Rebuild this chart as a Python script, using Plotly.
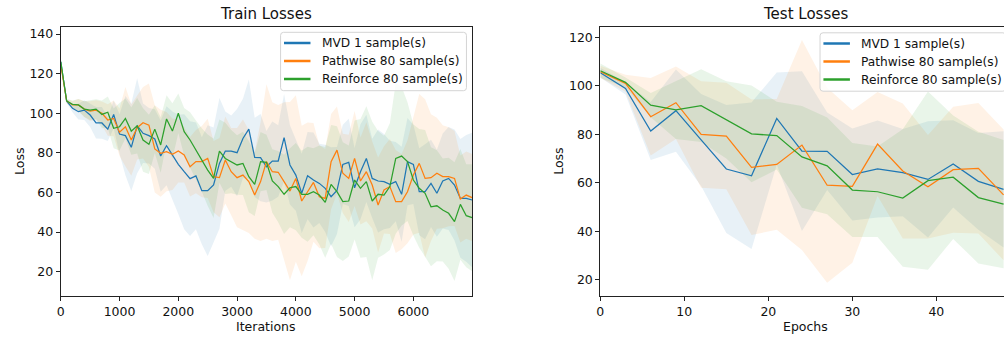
import plotly.graph_objects as go

# ---------------- data ----------------
iters = list(range(0, 7001, 100))

train_mvd = [126, 106.2, 102.5, 100.8, 101.6, 99.1, 95.2, 95.1, 92, 99.4,
             89.5, 88.7, 82.8, 93.7, 89.9, 88.7, 87, 78.4, 83.6, 78.9,
             74.2, 70.5, 67.0, 68.4, 60.9, 60.9, 63.8, 74.7, 80.9, 80.9,
             80.1, 87.3, 92, 77.7, 77.6, 73, 75.9, 75.9, 87.7, 73.9,
             68.8, 59.6, 68.5, 66.3, 64.6, 62.1, 57.9, 61, 74.2, 75.2,
             62.4, 70.5, 77.2, 67.1, 65.8, 65.5, 64.1, 65.5, 59.1, 75.6,
             74.2, 60.4, 60.4, 64.6, 59.6, 65.8, 67.1, 63.8, 57, 57, 56.2]
train_mvd_std = [2, 1, 2, 4, 5, 6, 8, 8, 6, 7,
                 10, 20, 22, 24, 15, 14, 15, 18, 20, 22,
                 25, 29, 29, 27, 27, 33, 29, 33, 20, 18,
                 22, 20, 25, 20, 22, 18, 20, 18, 22, 20,
                 18, 20, 22, 24, 20, 22, 25, 22, 20, 22,
                 20, 24, 22, 20, 26, 24, 22, 20, 24, 22,
                 20, 22, 24, 22, 22, 24, 26, 28, 30, 32, 34]

train_path = [124.5, 106.2, 104.2, 104.2, 102.1, 101.1, 101.6, 100, 96.6, 97.4,
              90.4, 93.2, 86.5, 92.7, 95.2, 94, 82, 79.8, 80.6, 79.3,
              81, 79, 73, 75.6, 75.6, 77.2, 68, 67.5, 76.4, 70.5,
              67.5, 68.8, 65.5, 58.7, 65.5, 75.6, 70.5, 70.2, 65.5, 60.7,
              67.1, 55.7, 60.4, 65.1, 57.9, 57, 75.6, 81.4, 69.7, 67.1,
              77.2, 65.8, 70.5, 63.8, 53.7, 61.3, 63, 55.4, 55.4, 60.4,
              68.8, 74.7, 67.1, 67.5, 69.7, 68, 68, 67.1, 56.7, 58.7, 57.4]
train_path_std = [2, 1, 2, 3, 4, 5, 5, 6, 8, 9,
                  12, 20, 18, 16, 18, 21, 22, 22, 20, 18,
                  16, 14, 15, 16, 18, 20, 18, 20, 22, 22,
                  25, 28, 26, 22, 30, 39, 35, 34, 40, 45,
                  42, 38, 35, 30, 26, 25, 24, 22, 20, 22,
                  24, 22, 25, 22, 24, 22, 24, 26, 24, 26,
                  30, 35, 40, 32, 28, 26, 25, 24, 22, 22, 22]

train_rein = [126, 106.2, 104.5, 104.2, 102.1, 101.6, 102.1, 99.4, 100.5, 92.4,
              93.2, 97.4, 91, 93.7, 86.5, 84.3, 92, 84, 97.1, 91,
              100, 90.7, 86.5, 81.4, 76.4, 71.3, 67.1, 80.9, 77.2, 75.6,
              73.9, 74.7, 68, 64.1, 75.6, 75.2, 65.8, 63, 59.1, 62.4,
              63, 59.1, 59.1, 60.4, 58.7, 55, 64.1, 60.4, 55.4, 55.7,
              66.3, 62.1, 65.5, 55.7, 59.1, 58.7, 63, 77.2, 78.4, 75.6,
              66.3, 62.1, 59.6, 52.8, 53.3, 51.2, 49.5, 45.3, 54, 48.3, 47.3]
train_rein_std = [2, 1, 2, 3, 4, 5, 5, 7, 8, 10,
                  12, 10, 12, 14, 16, 15, 12, 14, 12, 14,
                  10, 12, 14, 15, 16, 18, 20, 16, 18, 16,
                  15, 16, 18, 16, 15, 14, 16, 18, 20, 20,
                  22, 22, 24, 22, 25, 28, 30, 33, 30, 28,
                  30, 35, 38, 40, 32, 30, 32, 38, 35, 30,
                  28, 30, 32, 30, 28, 26, 28, 30, 28, 26, 27]

epochs = list(range(0, 49, 3))
test_mvd = [105.5, 99.0, 81.4, 89.8, 77.7, 65.7, 62.9, 86.6, 73.1, 73.0,
            63.4, 65.7, 64.2, 61.4, 67.8, 60.6, 57.3]
test_mvd_std = [2, 2.5, 12, 17, 19, 26.4, 30.3, 19, 33, 16, 19, 20, 18, 24, 18, 20, 24]
test_path = [105.9, 101.1, 87.3, 93.1, 80.0, 79.3, 66.4, 67.6, 75.6, 59.0,
             58.5, 76.0, 64.9, 58.4, 65.4, 66.0, 55.0]
test_path_std = [2.5, 3.5, 16, 15, 22, 22, 28, 27, 43.4, 40.3, 31.5, 21.5, 27.9, 21.4, 26, 27, 27]
test_rein = [106.3, 101.5, 92.1, 90.1, 91.9, 86.0, 80.2, 79.5, 70.7, 67.0,
             57.0, 56.3, 53.7, 60.9, 62.3, 53.9, 51.2]
test_rein_std = [3, 2, 5, 12, 15, 16, 20, 14, 21, 20, 19.4, 18.7, 28.4, 36.8, 25.5, 27.2, 26.5]

labels = ["MVD 1 sample(s)", "Pathwise 80 sample(s)", "Reinforce 80 sample(s)"]
colors = ["#1f77b4", "#ff7f0e", "#2ca02c"]
fills = ["rgba(31,119,180,0.1)", "rgba(255,127,14,0.1)", "rgba(44,160,44,0.1)"]

# ---------------- figure ----------------
W, H = 1004, 340
FONT = "DejaVu Sans"
fig = go.Figure()


def add_panel(x, series, stds, xa, ya):
    for m, s, fc in zip(series, stds, fills):
        up = [a + b for a, b in zip(m, s)]
        lo = [a - b for a, b in zip(m, s)]
        fig.add_trace(go.Scatter(x=x + x[::-1], y=up + lo[::-1], fill="toself",
                                 fillcolor=fc, line=dict(width=0), mode="lines",
                                 showlegend=False, hoverinfo="skip",
                                 xaxis=xa, yaxis=ya))
    for m, c in zip(series, colors):
        fig.add_trace(go.Scatter(x=x, y=m, mode="lines", line=dict(color=c, width=1.25),
                                 showlegend=False, hoverinfo="skip", xaxis=xa, yaxis=ya))


add_panel(iters, [train_mvd, train_path, train_rein],
          [train_mvd_std, train_path_std, train_rein_std], "x", "y")
add_panel(epochs, [test_mvd, test_path, test_rein],
          [test_mvd_std, test_path_std, test_rein_std], "x2", "y2")

ydom = [1 - 295.7 / H, 1 - 26.7 / H]
axis_common = dict(showgrid=False, zeroline=False, showline=True, linecolor="#222",
                   linewidth=1, ticks="outside", ticklen=4, tickwidth=1, tickcolor="#222",
                   tickfont=dict(family=FONT, size=12.5, color="#111"))

fig.update_layout(
    width=W, height=H, margin=dict(l=0, r=0, t=0, b=0),
    paper_bgcolor="white", plot_bgcolor="white", showlegend=False,
    font=dict(family=FONT, size=12.5, color="#111"),
    xaxis=dict(domain=[57 / W, 470 / W], range=[0, 7000], tickvals=[0, 1000, 2000, 3000, 4000, 5000, 6000],
               mirror=True, anchor="y", **axis_common),
    yaxis=dict(domain=ydom, range=[7.9, 143.7], tickvals=[20, 40, 60, 80, 100, 120, 140],
               mirror=True, anchor="x", **axis_common),
    xaxis2=dict(domain=[598.7 / W, 1.0], range=[0, 48.05], tickvals=[0, 10, 20, 30, 40],
                mirror=True, anchor="y2", **axis_common),
    yaxis2=dict(domain=ydom, range=[13.35, 124.5], tickvals=[20, 40, 60, 80, 100, 120],
                mirror=False, anchor="x2", **axis_common),
)


def px(x):
    return x / W


def py(y):
    return 1 - y / H


def legend_box(x0, y0):
    """Draw a matplotlib-style legend box with top-left corner at pixel (x0, y0)."""
    x1, y1, r = x0 + 186.6, y0 + 58.4, 3
    path = (f"M {px(x0 + r)},{py(y0)} L {px(x1 - r)},{py(y0)} Q {px(x1)},{py(y0)} {px(x1)},{py(y0 + r)} "
            f"L {px(x1)},{py(y1 - r)} Q {px(x1)},{py(y1)} {px(x1 - r)},{py(y1)} "
            f"L {px(x0 + r)},{py(y1)} Q {px(x0)},{py(y1)} {px(x0)},{py(y1 - r)} "
            f"L {px(x0)},{py(y0 + r)} Q {px(x0)},{py(y0)} {px(x0 + r)},{py(y0)} Z")
    fig.add_shape(type="path", path=path, xref="paper", yref="paper",
                  fillcolor="rgba(255,255,255,0.8)", line=dict(color="#d4d4d4", width=1),
                  layer="above")
    for i, (lab, c) in enumerate(zip(labels, colors)):
        yy = y0 + 10.7 + 18 * i
        fig.add_shape(type="line", xref="paper", yref="paper",
                      x0=px(x0 + 3.4), x1=px(x0 + 30), y0=py(yy), y1=py(yy),
                      line=dict(color=c, width=2.5), layer="above")
        fig.add_annotation(text=lab, xref="paper", yref="paper", x=px(x0 + 39.6), y=py(yy),
                           xanchor="left", yanchor="middle", showarrow=False,
                           font=dict(family=FONT, size=12.2, color="#111"))


legend_box(277.7, 32.3)
legend_box(819.3, 32.8)

ann = [
    ("Train Losses", 263.5, 14, 15, 0),
    ("Test Losses", 805, 14, 15, 0),
    ("Iterations", 263.5, 326, 12.5, 0),
    ("Epochs", 805, 326, 12.5, 0),
    ("Loss", 15, 161, 12.5, -90),
    ("Loss", 556, 161, 12.5, -90),
]
for text, x, y, size, ang in ann:
    fig.add_annotation(text=text, xref="paper", yref="paper", x=px(x), y=py(y),
                       xanchor="center", yanchor="middle", showarrow=False, textangle=ang,
                       font=dict(family=FONT, size=size, color="#111"))

fig.write_html("out.html", config={"displayModeBar": False})
